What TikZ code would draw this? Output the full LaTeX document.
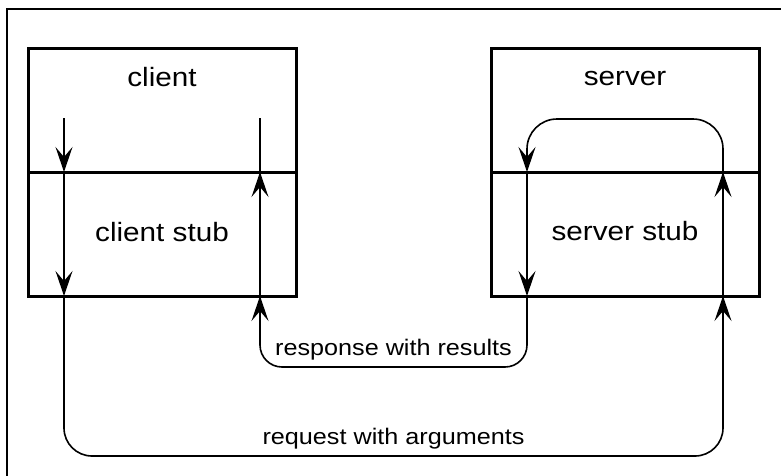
\documentclass[tikz,border=0pt]{standalone}
\usepackage{fontspec}
\newfontfamily\lblfont{Liberation Sans}[FakeStretch=1.12]
\usetikzlibrary{arrows.meta}
\begin{document}
\begin{tikzpicture}[x=1pt,y=-1pt,
  box/.style={draw, line width=3pt, minimum width=268pt, minimum height=124pt, inner sep=0pt, outer sep=0pt},
  toplbl/.style={font=\lblfont\fontsize{26.5}{30}\selectfont, inner sep=0pt, anchor=base},
  botlbl/.style={font=\lblfont\fontsize{22.5}{26}\selectfont, inner sep=0pt, anchor=base},
  flow/.style={line width=1.6pt, -{Stealth[length=25pt,width=17pt,inset=10pt]}},
  link/.style={line width=1.6pt}]
\useasboundingbox (0,0) rectangle (781,475);

% frame
\draw[line width=2pt] (7,480) -- (7,9) -- (790,9);

% client side
\node[box] (client) at (162,110) {};
\node[box] (cstub) at (162,234) {};
\node[toplbl] (clientlbl) at (162,86) {client};
\node[toplbl] (cstublbl) at (162,241) {client stub};

% server side
\node[box] (server) at (625,110) {};
\node[box] (sstub) at (625,234) {};
\node[toplbl] (serverlbl) at (625,85) {server};
\node[toplbl] (sstublbl) at (625,240) {server stub};

% turning points of the call path
\coordinate (cl) at (64,118);
\coordinate (cr) at (260,118);
\coordinate (sl) at (527,119);
\coordinate (sr) at (723,119);
\coordinate (reqL) at (64,456);
\coordinate (reqR) at (723,456);
\coordinate (resL) at (260,367);
\coordinate (resR) at (527,367);

% request: client -> client stub -> server stub -> server
\draw[flow] (cl) -- (cl |- cstub.north);
\draw[flow] (cl |- cstub.north) -- (cl |- cstub.south);
\draw[flow, rounded corners=28pt] (cl |- cstub.south) -- (reqL) -- (reqR) -- (reqR |- sstub.south);
\draw[flow] (reqR |- sstub.south) -- (reqR |- sstub.north);
\draw[flow, rounded corners=30pt] (reqR |- sstub.north) -- (sr) -- (sl) -- (sl |- sstub.north);

% response: server -> server stub -> client stub -> client
\draw[flow] (sl |- sstub.north) -- (sl |- sstub.south);
\draw[flow, rounded corners=22pt] (sl |- sstub.south) -- (resR) -- (resL) -- (resL |- cstub.south);
\draw[flow] (resL |- cstub.south) -- (resL |- cstub.north);
\draw[link] (resL |- cstub.north) -- (cr);

% path labels
\node[botlbl] (reslbl) at (393.5,355) {response with results};
\node[botlbl] (reqlbl) at (393.5,444) {request with arguments};
\end{tikzpicture}
\end{document}
